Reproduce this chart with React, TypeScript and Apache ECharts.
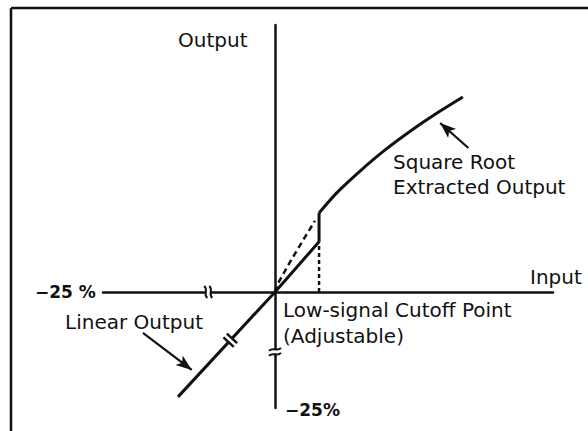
import React, { useEffect, useRef } from "react";
import * as echarts from "echarts";

// Data (arbitrary percent-like units; origin at 0,0)
const xRange = [-25, 40.4];
const yRange = [-25, 57.5];

const linearX = [-14.1, 0, 6.4];
const linearY = [-22.6, 0, 10.8];

const stepX = [6.4, 6.4];
const stepY = [10.8, 17.0];

const sqrtX = [6.4, 9.0, 12.4, 16.0, 19.9, 23.5, 27.3];
const sqrtY = [17.0, 21.4, 26.1, 30.6, 34.9, 38.5, 42.0];

const dashedX = [0, 0.3, 2.2, 4.1, 5.8];
const dashedY = [0, 1.5, 6.5, 11.2, 15.3];

const cutoffX = [6.4, 6.4];
const cutoffY = [0, 10.8];

// break marks: [x, y, kind]
const breakMarks: [number, number, string][] = [
  [-9.7, 0, "h"],
  [0, -12.9, "v"],
  [-6.5, -10.4, "line"],
];

// arrows: [fromX, fromY, toX, toY]
const arrows: [number, number, number, number][] = [
  [-19.2, -8.8, -12.1, -16.8],
  [28.1, 31.0, 24.0, 36.4],
];

const FONT = "'DejaVu Sans', 'Noto Sans', sans-serif";

function zip(xs: number[], ys: number[]) {
  return xs.map((x, i) => [x, ys[i]]);
}

export default function App() {
  const ref = useRef<HTMLDivElement>(null);
  useEffect(() => {
    if (!ref.current) return;
    const chart = echarts.init(ref.current, null, { renderer: "svg" });
    const black = "#111";
    const solid = (name: string, xs: number[], ys: number[], extra: any = {}) => ({
      type: "line",
      name,
      data: zip(xs, ys),
      showSymbol: false,
      symbol: "none",
      lineStyle: { color: black, width: 3, ...(extra.lineStyle || {}) },
      smooth: extra.smooth || false,
      z: 5,
    });
    const text = (t: string, x: number, y: number, extra: any = {}) => ({
      type: "text",
      x,
      y,
      style: {
        text: t,
        fill: black,
        font: extra.font || `20px ${FONT}`,
        textVerticalAlign: "middle",
        textAlign: extra.align || "left",
      },
      z: 20,
    });
    chart.setOption({
      animation: false,
      backgroundColor: "#fff",
      grid: { left: 103, right: 35, top: 25, bottom: 23, outerBoundsMode: "none" },
      xAxis: {
        type: "value",
        min: xRange[0],
        max: xRange[1],
        axisLine: { show: true, onZero: true, lineStyle: { color: black, width: 2.5 } },
        axisTick: { show: false },
        axisLabel: { show: false },
        splitLine: { show: false },
      },
      yAxis: {
        type: "value",
        min: yRange[0],
        max: yRange[1],
        axisLine: { show: true, onZero: true, lineStyle: { color: black, width: 2.5 } },
        axisTick: { show: false },
        axisLabel: { show: false },
        splitLine: { show: false },
      },
      series: [
        solid("linear", linearX, linearY),
        solid("step", stepX, stepY),
        solid("sqrt", sqrtX, sqrtY, { smooth: 0.3 }),
        solid("dashed", dashedX, dashedY, { lineStyle: { type: [6, 4], width: 2.5 } }),
        solid("cutoff", cutoffX, cutoffY, { lineStyle: { type: [4, 3], width: 2.5 } }),
        {
          type: "line",
          name: "arrows",
          data: [],
          markLine: {
            silent: true,
            symbol: ["none", "arrow"],
            symbolSize: [9, 16],
            label: { show: false },
            lineStyle: { color: black, width: 2.2, type: "solid" },
            data: arrows.map((a) => [{ coord: [a[0], a[1]] }, { coord: [a[2], a[3]] }]),
          },
        },
        {
          type: "custom",
          name: "breaks",
          data: breakMarks.map((b) => [b[0], b[1]]),
          z: 10,
          renderItem: (params: any, api: any) => {
            const idx = params.dataIndex;
            const kind = breakMarks[idx][2];
            const p = api.coord([api.value(0), api.value(1)]);
            let rotation = 0;
            if (kind === "v") rotation = Math.PI / 2;
            if (kind === "line") {
              const p0 = api.coord([0, 0]);
              const p1 = api.coord([linearX[0], linearY[0]]);
              rotation = Math.atan2(p1[1] - p0[1], p0[0] - p1[0]);
            }
            const isLine = kind === "line";
            const g = 2.5;
            const children: any[] = [
              {
                type: "rect",
                shape: { x: -g + 0.5, y: -5, width: 2 * g - 1, height: 10 },
                style: { fill: "#fff" },
              },
            ];
            [-g, g].forEach((ox) => {
              if (isLine) {
                children.push({
                  type: "line",
                  shape: { x1: ox, y1: -7, x2: ox, y2: 7 },
                  style: { stroke: black, lineWidth: 2.5 },
                });
              } else {
                children.push({
                  type: "bezierCurve",
                  shape: {
                    x1: ox - 1.5,
                    y1: -6,
                    cpx1: ox + 3,
                    cpy1: -2,
                    cpx2: ox - 3,
                    cpy2: 2,
                    x2: ox + 1.5,
                    y2: 6,
                  },
                  style: { stroke: black, lineWidth: 2, fill: null },
                });
              }
            });
            return { type: "group", x: p[0], y: p[1], rotation, children };
          },
        },
      ],
      graphic: [
        {
          type: "line",
          shape: { x1: 11, y1: 8, x2: 588, y2: 8 },
          style: { stroke: black, lineWidth: 2.5 },
        },
        {
          type: "line",
          shape: { x1: 11, y1: 8, x2: 11, y2: 431 },
          style: { stroke: black, lineWidth: 2.5 },
        },
        text("Output", 178, 40),
        text("Input", 530, 277),
        text("Square Root", 393, 162),
        text("Extracted Output", 393, 187),
        text("Low-signal Cutoff Point", 283, 310),
        text("(Adjustable)", 283, 336),
        text("Linear Output", 65, 322),
        text("\u221225 %", 35, 292, { font: `bold 17px ${FONT}` }),
        text("\u221225%", 285, 410, { font: `bold 17px ${FONT}` }),
      ],
    });
    return () => chart.dispose();
  }, []);
  return (
    <div
      ref={ref}
      style={{ position: "absolute", left: 0, top: 0, width: 588, height: 431, background: "#fff" }}
    />
  );
}
